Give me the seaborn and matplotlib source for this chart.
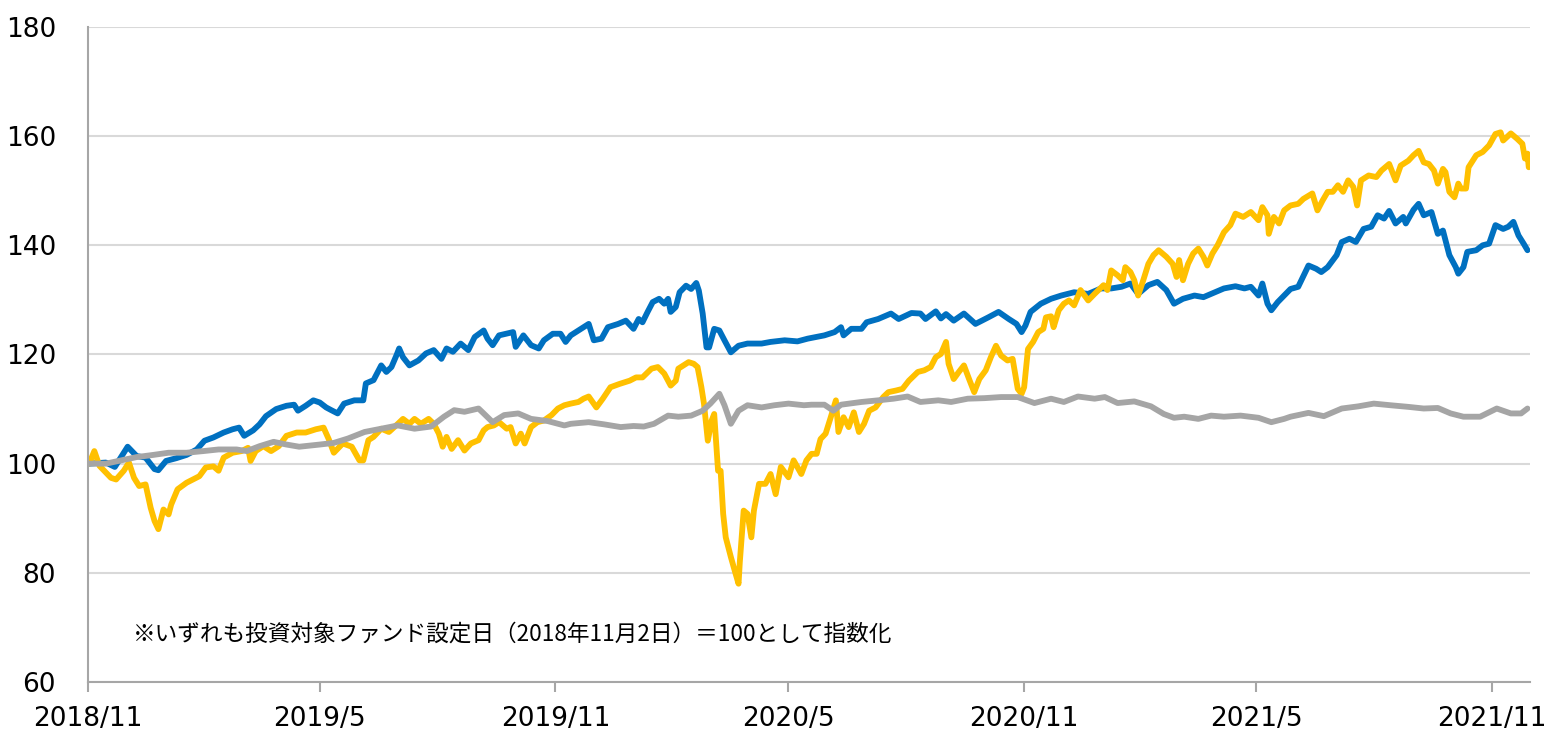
import numpy as np
import pandas as pd
import matplotlib
matplotlib.use("Agg")
import matplotlib.pyplot as plt
import seaborn as sns

# days since fund launch (2018/11/2) and index level
start_date = "2018-11-02"

blue_days = [0, 13, 20, 30, 37, 44, 51, 54, 60, 68, 76, 84, 90, 97, 105, 112, 117, 121, 128, 133,
             138, 146, 154, 160, 163, 169, 175, 180, 185, 189, 194, 199, 207, 214, 216, 222, 228, 232, 236, 240,
             242, 245, 250, 257, 263, 269, 275, 279, 284, 290, 296, 301, 308, 311, 315, 320, 331, 333, 339, 345,
             351, 355, 362, 368, 372, 376, 382, 390, 394, 400, 405, 413, 419, 425, 429, 432, 436, 440, 445, 449,
             452, 454, 458, 461, 466, 470, 474, 476, 479, 482, 484, 488, 492, 496, 501, 507, 514, 525, 532, 543,
             553, 561, 574, 582, 587, 589, 595, 603, 607, 616, 626, 632, 642, 649, 653, 661, 665, 669, 675, 683,
             692, 702, 710, 718, 724, 728, 731, 735, 743, 751, 759, 769, 780, 790, 798, 806, 813, 819, 827, 834,
             841, 847, 854, 863, 870, 878, 886, 895, 902, 907, 913, 916, 920, 923, 928, 933, 938, 944, 952, 958,
             962, 967, 974, 978, 984, 989, 995, 1001, 1006, 1011, 1015, 1020, 1026, 1028, 1034, 1038, 1042, 1048, 1053, 1057,
             1059, 1062, 1067, 1069, 1073, 1076, 1083, 1088, 1093, 1098, 1104, 1108, 1112, 1116, 1120, 1123]
blue_vals = [100.0, 100.2, 99.4, 103.1, 101.4, 101.1, 99.0, 98.8, 100.5, 101.0, 101.6, 102.6, 104.2, 104.8, 105.7, 106.3, 106.6, 105.1, 106.1, 107.2,
             108.7, 110.0, 110.6, 110.8, 109.7, 110.6, 111.6, 111.2, 110.3, 109.8, 109.2, 111.0, 111.6, 111.6, 114.7, 115.3, 118.0, 116.8, 117.7, 119.9,
             121.1, 119.5, 118.0, 118.9, 120.2, 120.8, 119.2, 121.1, 120.5, 122.0, 120.8, 123.2, 124.4, 122.9, 121.7, 123.5, 124.1, 121.4, 123.5, 121.7,
             121.1, 122.6, 123.8, 123.8, 122.3, 123.5, 124.4, 125.6, 122.6, 122.9, 125.0, 125.6, 126.2, 124.7, 126.5, 125.9, 127.8, 129.6, 130.2, 129.3,
             130.2, 127.8, 128.7, 131.4, 132.6, 132.0, 133.1, 131.7, 127.5, 121.3, 121.3, 124.7, 124.4, 122.6, 120.4, 121.6, 122.0, 122.0, 122.3, 122.6,
             122.4, 122.9, 123.5, 124.1, 125.0, 123.5, 124.7, 124.7, 125.9, 126.5, 127.5, 126.5, 127.6, 127.5, 126.5, 127.9, 126.6, 127.4, 126.2, 127.5,
             125.6, 126.8, 127.8, 126.5, 125.6, 124.1, 125.3, 127.8, 129.3, 130.2, 130.8, 131.4, 131.1, 132.1, 132.1, 132.4, 133.0, 131.1, 132.7, 133.3,
             131.8, 129.3, 130.2, 130.8, 130.5, 131.3, 132.1, 132.5, 132.1, 132.4, 130.8, 133.0, 129.3, 128.1, 129.6, 130.8, 132.0, 132.4, 136.3, 135.7,
             135.1, 136.0, 138.2, 140.6, 141.2, 140.6, 143.0, 143.4, 145.5, 144.9, 146.3, 144.0, 145.2, 144.0, 146.5, 147.6, 145.5, 146.1, 142.1, 142.7,
             140.9, 138.2, 136.0, 134.8, 136.0, 138.8, 139.1, 140.0, 140.3, 143.7, 143.0, 143.4, 144.3, 141.8, 140.3, 139.1]

yellow_days = [0, 4, 8, 17, 21, 27, 31, 35, 39, 44, 48, 51, 54, 58, 62, 64, 69, 76, 81, 86,
               91, 97, 101, 105, 112, 119, 124, 126, 130, 136, 142, 148, 154, 162, 169, 177, 183, 187, 191, 198,
               205, 211, 214, 218, 222, 228, 234, 241, 245, 250, 254, 259, 265, 269, 273, 276, 279, 283, 288, 293,
               298, 304, 308, 311, 316, 320, 326, 329, 333, 337, 340, 345, 350, 355, 361, 366, 371, 376, 382, 386,
               390, 396, 401, 407, 414, 422, 427, 432, 439, 444, 449, 454, 458, 460, 464, 468, 472, 475, 478, 480,
               483, 486, 488, 491, 493, 495, 497, 501, 504, 507, 508, 511, 514, 517, 519, 523, 528, 532, 536, 540,
               546, 550, 556, 560, 564, 568, 571, 575, 579, 583, 585, 589, 593, 597, 601, 605, 609, 614, 620, 624,
               630, 635, 640, 647, 652, 657, 661, 665, 669, 671, 675, 679, 683, 687, 691, 695, 700, 704, 708, 712,
               717, 721, 725, 728, 730, 733, 737, 741, 745, 747, 751, 753, 757, 761, 765, 769, 774, 780, 785, 792,
               795, 798, 803, 807, 809, 813, 816, 819, 823, 827, 831, 835, 841, 846, 849, 851, 854, 858, 862, 866,
               870, 873, 877, 881, 886, 891, 895, 901, 907, 913, 916, 920, 921, 925, 929, 933, 938, 944, 948, 955,
               959, 963, 967, 971, 975, 979, 983, 987, 990, 993, 999, 1005, 1009, 1015, 1020, 1024, 1030, 1034, 1038, 1042,
               1046, 1050, 1053, 1057, 1059, 1062, 1066, 1069, 1071, 1075, 1077, 1083, 1088, 1093, 1098, 1102, 1104, 1110, 1115, 1119,
               1121, 1123, 1124]
yellow_vals = [100.0, 102.3, 99.6, 97.4, 97.1, 98.7, 100.2, 97.4, 95.9, 96.2, 91.9, 89.5, 88.0, 91.6, 90.7, 92.5, 95.3, 96.5, 97.1, 97.7,
               99.3, 99.5, 98.7, 101.1, 102.0, 102.3, 102.9, 100.5, 102.3, 103.2, 102.3, 103.2, 105.1, 105.7, 105.7, 106.3, 106.6, 104.5, 102.0, 103.7,
               103.1, 100.6, 100.6, 104.3, 104.9, 106.4, 105.8, 107.3, 108.2, 107.3, 108.2, 107.3, 108.2, 107.3, 105.5, 103.1, 104.9, 102.7, 104.3, 102.4,
               103.7, 104.3, 106.1, 106.7, 107.0, 107.6, 106.4, 106.7, 103.7, 105.5, 103.7, 106.7, 107.6, 107.9, 108.9, 110.1, 110.7, 111.0, 111.3, 111.9,
               112.3, 110.3, 111.9, 114.0, 114.6, 115.2, 115.8, 115.8, 117.4, 117.7, 116.5, 114.3, 115.2, 117.4, 118.0, 118.6, 118.3, 117.7, 114.0, 111.0,
               104.2, 107.9, 109.1, 98.7, 98.7, 90.8, 86.5, 82.9, 80.4, 78.0, 82.0, 91.4, 90.8, 86.5, 91.4, 96.3, 96.3, 98.1, 94.4, 99.4,
               97.5, 100.6, 98.1, 100.6, 101.8, 101.8, 104.5, 105.5, 108.5, 111.6, 105.8, 108.5, 106.7, 109.4, 105.8, 107.3, 109.7, 110.3, 112.2, 113.1,
               113.4, 113.7, 115.2, 116.8, 117.1, 117.7, 119.5, 120.1, 122.3, 118.3, 115.5, 116.8, 118.0, 115.5, 113.1, 115.5, 117.1, 119.5, 121.6, 119.8,
               118.9, 119.2, 113.7, 112.8, 114.0, 121.0, 122.3, 124.1, 124.7, 126.8, 127.0, 125.0, 128.1, 129.3, 129.9, 129.0, 131.8, 129.9, 131.1, 132.7,
               131.8, 135.4, 134.5, 133.6, 136.0, 135.1, 133.6, 130.8, 133.6, 136.6, 138.2, 139.1, 137.9, 136.6, 134.2, 137.3, 133.6, 136.6, 138.5, 139.4,
               137.9, 136.3, 138.5, 140.0, 142.4, 143.7, 145.8, 145.2, 146.1, 144.6, 147.0, 145.5, 142.1, 145.2, 144.0, 146.4, 147.3, 147.6, 148.5, 149.5,
               146.4, 148.2, 149.8, 149.8, 151.0, 149.8, 151.9, 150.7, 147.3, 151.9, 152.8, 152.5, 153.7, 154.9, 151.9, 154.6, 155.5, 156.5, 157.3, 155.2,
               154.9, 153.7, 151.3, 154.0, 153.4, 149.8, 148.8, 151.3, 150.4, 150.4, 154.3, 156.5, 157.1, 158.3, 160.4, 160.7, 159.2, 160.5, 159.5, 158.6,
               155.9, 156.8, 154.3]

gray_days = [0, 13, 23, 37, 50, 62, 76, 89, 101, 115, 123, 133, 144, 154, 164, 180, 191, 202, 215, 228,
             241, 254, 267, 277, 285, 293, 304, 308, 315, 324, 335, 345, 358, 371, 376, 390, 402, 415, 425, 433,
             441, 452, 460, 470, 479, 485, 492, 496, 501, 507, 514, 525, 535, 546, 558, 564, 574, 581, 587, 603,
             616, 628, 639, 649, 663, 673, 686, 699, 712, 725, 738, 751, 761, 772, 785, 793, 803, 816, 829, 839,
             847, 855, 866, 876, 886, 899, 913, 923, 933, 938, 952, 964, 978, 991, 1003, 1016, 1030, 1042, 1053, 1063,
             1073, 1086, 1099, 1110, 1118, 1123]
gray_vals = [100.0, 100.0, 100.5, 101.2, 101.6, 102.0, 102.0, 102.3, 102.6, 102.6, 102.3, 103.2, 104.0, 103.5, 103.1, 103.5, 103.8, 104.6, 105.8, 106.4,
             107.0, 106.4, 106.8, 108.6, 109.8, 109.5, 110.1, 109.2, 107.6, 108.9, 109.2, 108.2, 107.8, 107.0, 107.3, 107.6, 107.2, 106.7, 106.9, 106.8,
             107.3, 108.8, 108.6, 108.8, 109.7, 111.0, 112.8, 110.7, 107.3, 109.7, 110.7, 110.3, 110.7, 111.0, 110.7, 110.8, 110.8, 109.7, 110.8, 111.3,
             111.6, 111.9, 112.3, 111.3, 111.6, 111.3, 111.9, 112.0, 112.2, 112.2, 111.1, 111.9, 111.3, 112.3, 111.9, 112.2, 111.1, 111.4, 110.5, 109.1,
             108.4, 108.6, 108.2, 108.8, 108.6, 108.8, 108.4, 107.6, 108.2, 108.6, 109.3, 108.7, 110.1, 110.5, 111.0, 110.7, 110.4, 110.1, 110.2, 109.2,
             108.6, 108.6, 110.1, 109.2, 109.2, 110.1]

series_names = ["blue", "yellow", "gray"]
series_colors = ["#0070C0", "#FFC000", "#A5A5A5"]

tick_dates = ["2018-11-01", "2019-05-01", "2019-11-01", "2020-05-01", "2020-11-01", "2021-05-01", "2021-11-01"]
tick_labels = ["2018/11", "2019/5", "2019/11", "2020/5", "2020/11", "2021/5", "2021/11"]
note = "※いずれも投資対象ファンド設定日（2018年11月2日）＝100として指数化"


def build_frame():
    frames = []
    for name, days, vals in zip(series_names,
                                [blue_days, yellow_days, gray_days],
                                [blue_vals, yellow_vals, gray_vals]):
        df = pd.DataFrame({"days": days, "value": vals})
        df["date"] = pd.Timestamp(start_date) + pd.to_timedelta(df["days"], unit="D")
        df["series"] = name
        frames.append(df)
    return pd.concat(frames, ignore_index=True)


data = build_frame()

sns.set_theme(style="white")
plt.rcParams["font.family"] = ["DejaVu Sans", "Noto Sans CJK JP"]

fig = plt.figure(figsize=(15.48, 7.33), dpi=100)
ax = fig.add_axes([0.0568, 0.0696, 0.9316, 0.8936])

# draw in Excel series order: blue, yellow, gray on top
for name, color in zip(series_names, series_colors):
    sns.lineplot(data=data[data["series"] == name], x="date", y="value",
                 color=color, linewidth=4.2, ax=ax, legend=False)

ax.set_ylim(60, 180)
ax.set_yticks(np.arange(60, 181, 20))
ax.set_xlim(pd.Timestamp("2018-11-01"), pd.Timestamp("2021-12-01"))
ax.set_xticks(pd.to_datetime(tick_dates))
ax.set_xticklabels(tick_labels)
ax.set_xlabel("")
ax.set_ylabel("")

ax.grid(axis="y", color="#D9D9D9", linewidth=1.5)
ax.set_axisbelow(True)
for side in ["top", "right"]:
    ax.spines[side].set_visible(False)
for side in ["left", "bottom"]:
    ax.spines[side].set_color("#A6A6A6")
    ax.spines[side].set_linewidth(1.5)

ax.tick_params(axis="x", which="major", length=7, width=1.5, color="#A6A6A6",
               bottom=True, labelsize=19, pad=10, labelcolor="#000000")
ax.tick_params(axis="y", length=0, labelsize=19, pad=23, labelcolor="#000000")

ax.text(0.031, 0.073, note, transform=ax.transAxes, fontsize=16.3, va="center",
        color="#000000", family=["Noto Sans CJK JP", "DejaVu Sans"])

plt.savefig("out.png", dpi=100)
